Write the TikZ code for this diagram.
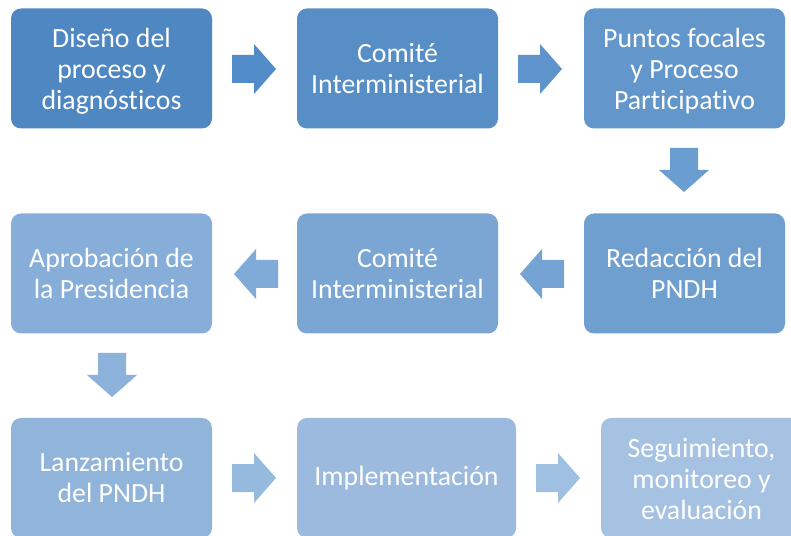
\documentclass[tikz,border=0pt]{standalone}
\usepackage{fontspec}
\setmainfont{Carlito}[Ligatures=NoCommon]
\definecolor{cA}{RGB}{79,135,194}
\definecolor{cB}{RGB}{88,142,198}
\definecolor{cC}{RGB}{99,151,203}
\definecolor{cD}{RGB}{111,159,207}
\definecolor{cE}{RGB}{123,166,211}
\definecolor{cF}{RGB}{135,174,216}
\definecolor{cG}{RGB}{145,180,219}
\definecolor{cH}{RGB}{155,186,222}
\definecolor{cI}{RGB}{166,194,227}
\definecolor{aA}{RGB}{82,140,200}
\definecolor{aB}{RGB}{94,148,203}
\definecolor{aC}{RGB}{106,157,208}
\definecolor{aD}{RGB}{117,164,212}
\definecolor{aE}{RGB}{128,171,216}
\definecolor{aF}{RGB}{140,178,219}
\definecolor{aG}{RGB}{150,185,222}
\definecolor{aH}{RGB}{160,192,226}
\tikzset{
  stage/.style={rectangle, rounded corners=10pt, fill=#1, draw=none,
    minimum width=201pt, minimum height=120pt, inner sep=0pt},
  stagetext/.style={inner sep=0pt, text=white, align=center,
    font=\fontsize{27.8}{31}\selectfont},
  pics/blockarrow/.style={code={
    \fill[#1] (0,-14) -- (22,-14) -- (22,-25) -- (44,0) -- (22,25) -- (22,14) -- (0,14) -- cycle;}}
}
\begin{document}
\begin{tikzpicture}[x=1pt,y=1pt]
\useasboundingbox (0,0) rectangle (791,535);
\clip (0,0) rectangle (791,535);
\fill[white] (0,0) rectangle (791,535);
% row 1
\node[stage=cA] (n1) at (111.5,466.5) {};
\node[stage=cB] (n2) at (397.5,466.5) {};
\node[stage=cC] (n3) at (684.5,466.5) {};
% row 2
\node[stage=cD] (n4) at (684.5,261.5) {};
\node[stage=cE] (n5) at (397.5,261.5) {};
\node[stage=cF] (n6) at (111.5,261.5) {};
% row 3
\node[stage=cG] (n7) at (111.5,57) {};
\node[stage=cH, minimum width=219pt] (n8) at (406.5,57) {};
\node[stage=cI] (n9) at (701.5,57) {};
% texts
\node[stagetext] (t1) at ([yshift=-3pt]n1.center) {Diseño del\\proceso y\\diagnósticos};
\node[stagetext] (t2) at (n2.center) {Comité\\Interministerial};
\node[stagetext] (t3) at ([yshift=-3pt]n3.center) {Puntos focales\\y Proceso\\Participativo};
\node[stagetext] (t4) at (n4.center) {Redacción del\\PNDH};
\node[stagetext] (t5) at (n5.center) {Comité\\Interministerial};
\node[stagetext] (t6) at (n6.center) {Aprobación de\\la Presidencia};
\node[stagetext] (t7) at (n7.center) {Lanzamiento\\del PNDH};
\node[stagetext] (t8) at (n8.center) {Implementación};
\node[stagetext] (t9) at ([yshift=-1pt]n9.center) {Seguimiento,\\monitoreo y\\evaluación};
% arrows
\pic at (232,466) {blockarrow=aA};
\pic at (518,466) {blockarrow=aB};
\pic[rotate=-90] at (684,387) {blockarrow=aC};
\pic[rotate=180] at (564,261) {blockarrow=aD};
\pic[rotate=180] at (278,261) {blockarrow=aE};
\pic[rotate=-90] at (112,182) {blockarrow=aF};
\pic at (232,57) {blockarrow=aG};
\pic at (536,57) {blockarrow=aH};
\end{tikzpicture}
\end{document}
